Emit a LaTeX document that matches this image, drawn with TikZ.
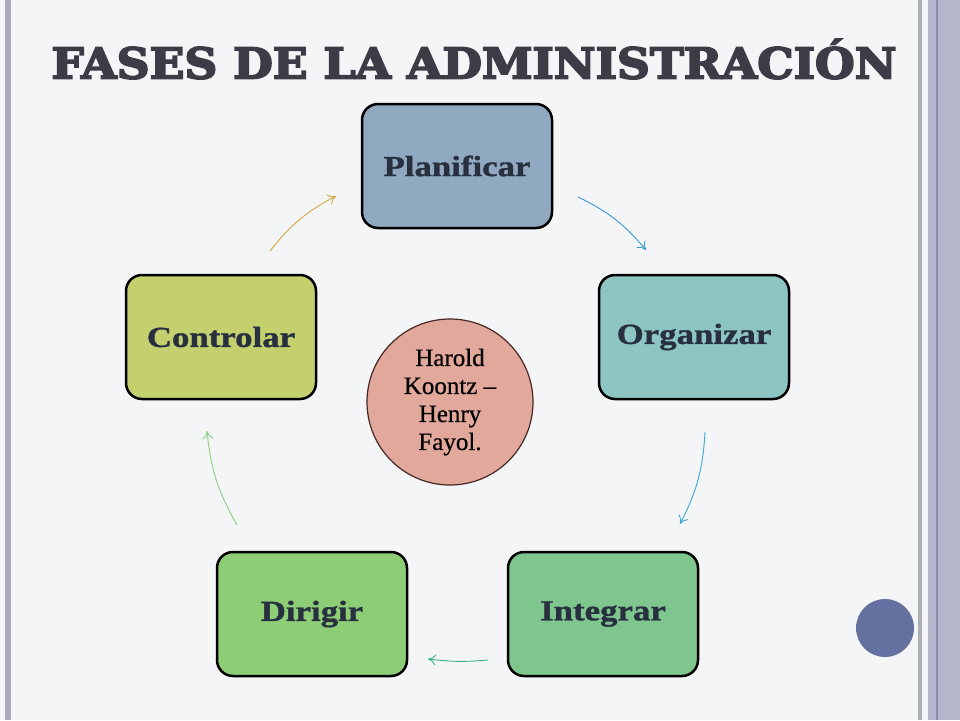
\documentclass[tikz,border=0pt]{standalone}
\usepackage{fontspec}
\setmainfont{Liberation Serif}
\newfontfamily\titlefont[FakeBold=4]{DejaVu Serif}
\newfontfamily\fasefont[FakeStretch=1.2,FakeBold=1.2]{Liberation Serif}
\newfontfamily\autorfont[FakeBold=0.6]{Liberation Serif}
\usetikzlibrary{arrows.meta}

\definecolor{fondo}{RGB}{244,245,246}
\definecolor{tituloc}{RGB}{60,60,71}
\definecolor{textofase}{RGB}{40,48,64}
\definecolor{planc}{RGB}{144,169,193}
\definecolor{orgc}{RGB}{140,197,193}
\definecolor{intc}{RGB}{126,197,142}
\definecolor{dirc}{RGB}{141,205,117}
\definecolor{contc}{RGB}{196,207,110}
\definecolor{autorc}{RGB}{227,168,156}
\definecolor{puntoc}{RGB}{100,113,160}
\definecolor{bordec}{RGB}{170,172,188}
\definecolor{grisc}{RGB}{172,178,180}
\definecolor{lavc}{RGB}{180,182,204}
\definecolor{lavosc}{RGB}{140,142,170}
\definecolor{azulc}{RGB}{58,152,216}
\definecolor{cianc}{RGB}{58,168,216}
\definecolor{verdec}{RGB}{58,176,138}
\definecolor{verdeclc}{RGB}{140,208,128}
\definecolor{oroc}{RGB}{212,168,64}

\begin{document}
\begin{tikzpicture}[x=1pt,y=-1pt,
    fase/.style={draw=black,line width=2.5pt,rounded corners=16pt,
      minimum width=190pt,minimum height=124pt,
      font=\fasefont\fontsize{29}{29}\selectfont\bfseries,text=textofase},
    flecha/.style={-{To[length=8pt,width=11pt]},line width=0.9pt,bend left=12}]
    \useasboundingbox (0,0) rectangle (960,720);
    \fill[fondo] (0,0) rectangle (960,720);
    % bordes de la diapositiva
    \fill[bordec] (5,0) rectangle (11,720);
    \fill[grisc] (918,0) rectangle (922,720);
    \fill[lavc] (928,0) rectangle (960,720);
    \draw[lavosc,line width=2pt] (937,0) -- (937,720);

    \node[text=tituloc,font=\titlefont\bfseries] (titulo) at (474,63)
      {\resizebox{845pt}{31pt}{\smash{FASES DE LA ADMINISTRACIÓN}\vphantom{F}}};

    \node[fase,fill=planc]  (plan)  at (457,166) {Planificar};
    \node[fase,fill=orgc]   (org)   at (694,337) {Organizar};
    \node[fase,fill=intc]   (integ) at (603,614) {Integrar};
    \node[fase,fill=dirc]   (dirig) at (312,614) {Dirigir};
    \node[fase,fill=contc]  (contr) at (221,337) {Controlar};
    \node[circle,draw={rgb,255:red,70;green,40;blue,36},line width=1.2pt,
      fill=autorc,minimum size=166pt,inner sep=0pt,align=center,
      font=\autorfont\fontsize{25}{28}\selectfont] (autores) at (450,402)
      {Harold\\Koontz –\\Henry\\Fayol.};
    \node[circle,fill=puntoc,minimum size=58pt,inner sep=0pt] (punto) at (885,628) {};

    \coordinate (a1s) at (578,197); \coordinate (a1e) at (646,250);
    \coordinate (a2s) at (705,432); \coordinate (a2e) at (680,524);
    \coordinate (a3s) at (488,660); \coordinate (a3e) at (428,659);
    \coordinate (a4s) at (237,525); \coordinate (a4e) at (207,431);
    \coordinate (a5s) at (270,251); \coordinate (a5e) at (336,196);

    \path[flecha] (a1s) edge[azulc] (a1e)
                  (a2s) edge[cianc] (a2e)
                  (a3s) edge[verdec,bend left=6] (a3e)
                  (a4s) edge[verdeclc] (a4e)
                  (a5s) edge[oroc] (a5e);
\end{tikzpicture}
\end{document}
